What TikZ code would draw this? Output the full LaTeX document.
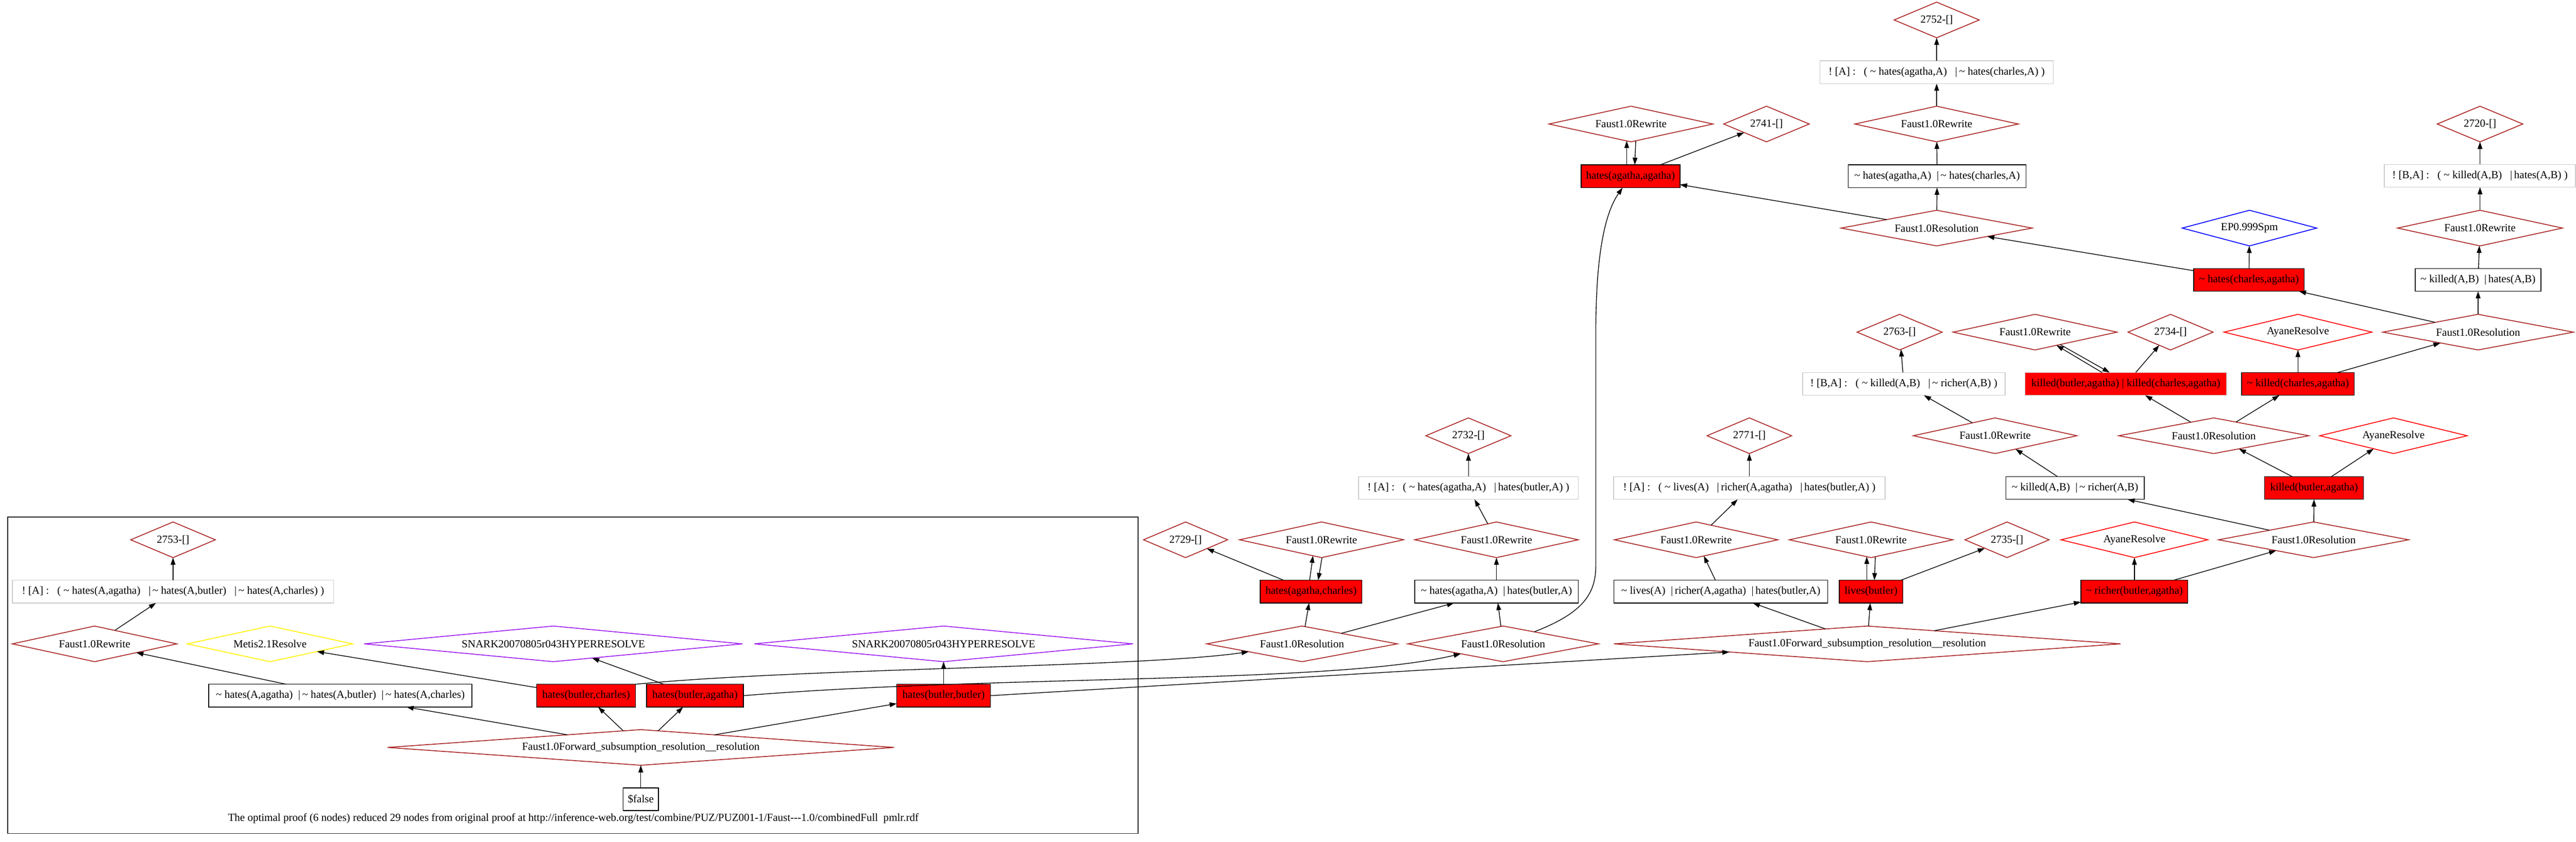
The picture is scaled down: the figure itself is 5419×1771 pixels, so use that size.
\documentclass[tikz,border=0pt]{standalone}
\usepackage{fontspec}
\setmainfont{Liberation Serif}
\usetikzlibrary{shapes.geometric,arrows.meta,calc}
\definecolor{fau}{RGB}{170,38,38}
\definecolor{pur}{RGB}{160,32,240}
\definecolor{gbox}{RGB}{204,204,204}
\newcommand{\tl}{\textasciitilde\ }
\begin{document}
\begin{tikzpicture}[x=1pt,y=-1pt,
  every node/.style={font=\fontsize{22.8}{27}\selectfont, inner sep=0pt, outer sep=0pt},
  dm/.code 2 args={\pgfmathsetmacro\dmasp{#1/75}\edef\dmtmp{\noexpand\tikzset{diamond, draw=#2, line width=1.8pt, minimum width=#1, minimum height=75, shape aspect=\dmasp}}\dmtmp},
  bx/.style={rectangle, draw=black, line width=1.6pt, minimum width=#1, minimum height=48},
  gx/.style={rectangle, draw=gbox, line width=1.6pt, minimum width=#1, minimum height=48},
  rx/.style={rectangle, draw=black, fill=red, line width=1.6pt, minimum width=#1, minimum height=48},
  ed/.style={draw, line width=1.5pt, -{Triangle[length=15pt,width=10pt]}}]
\useasboundingbox (0,0) rectangle (5419,1771);
% cluster frame
\draw[line width=1.8pt, black!85] (16,1088) rectangle (2394,1754);
\node[anchor=base] (cap) at (1206,1728) {The optimal proof (6 nodes) reduced 29 nodes from original proof at http://inference-web.org/test/combine/PUZ/PUZ001-1/Faust-{}-{}-1.0/combinedFull\ \ pmlr.rdf};
% inside cluster
\node[dm={178}{fau}] (n2753) at (364,1136) {2753-[]};
\node[gx=676] (fA3) at (364,1245) {!\ [A]\ :\ \ \ (\ \tl hates(A,agatha)\ \ \ |\,\tl hates(A,butler)\ \ \ |\,\tl hates(A,charles)\ )};
\node[dm={346}{fau}] (rwB) at (199,1355) {Faust1.0Rewrite};
\node[dm={348}{yellow}] (metis) at (568,1355) {Metis2.1Resolve};
\node[dm={796}{pur}] (snk1) at (1164,1355) {SNARK20070805r043HYPERRESOLVE};
\node[dm={797}{pur}] (snk2) at (1985,1355) {SNARK20070805r043HYPERRESOLVE};
\node[bx=554] (cl3) at (716,1464) {\tl hates(A,agatha)\ \ |\,\tl hates(A,butler)\ \ |\,\tl hates(A,charles)};
\node[rx=208] (hbc) at (1233,1464) {hates(butler,charles)};
\node[rx=204] (hba) at (1462,1464) {hates(butler,agatha)};
\node[rx=197] (hbb) at (1985,1464) {hates(butler,butler)};
\node[dm={1066}{fau}] (fwdB) at (1348,1573) {Faust1.0Forward\_subsumption\_resolution\_\_resolution};
\node[bx=74] (fls) at (1348,1682) {\$false};
% outside
\node[dm={177}{fau}] (n2729) at (2494,1136) {2729-[]};
\node[dm={345}{fau}] (rwC) at (2780,1136) {Faust1.0Rewrite};
\node[dm={344}{fau}] (rwD) at (3148,1136) {Faust1.0Rewrite};
\node[dm={179}{fau}] (n2732) at (3089,917) {2732-[]};
\node[gx=462] (fA2) at (3089,1027) {!\ [A]\ :\ \ \ (\ \tl hates(agatha,A)\ \ \ |\,hates(butler,A)\ )};
\node[rx=214] (hac) at (2758,1245) {hates(agatha,charles)};
\node[bx=344] (cl2) at (3148,1245) {\tl hates(agatha,A)\ \ |\,hates(butler,A)};
\node[dm={401}{fau}] (resL) at (2739,1355) {Faust1.0Resolution};
\node[dm={401}{fau}] (resR) at (3162,1355) {Faust1.0Resolution};
\node[dm={178}{fau}] (n2771) at (3680,917) {2771-[]};
\node[gx=571] (fA4) at (3680,1027) {!\ [A]\ :\ \ \ (\ \tl lives(A)\ \ \ |\,richer(A,agatha)\ \ \ |\,hates(butler,A)\ )};
\node[dm={344}{fau}] (rwE) at (3568,1136) {Faust1.0Rewrite};
\node[dm={344}{fau}] (rwF) at (3936,1136) {Faust1.0Rewrite};
\node[dm={177}{fau}] (n2735) at (4222,1136) {2735-[]};
\node[dm={309}{red}] (ay1) at (4490,1136) {AyaneResolve};
\node[bx=450] (cl4) at (3620,1245) {\tl lives(A)\ \ |\,richer(A,agatha)\ \ |\,hates(butler,A)};
\node[rx=134] (lb) at (3936,1245) {lives(butler)};
\node[rx=225] (nrba) at (4490,1245) {\tl richer(butler,agatha)};
\node[dm={1066}{fau}] (fwdA) at (3928,1355) {Faust1.0Forward\_subsumption\_resolution\_\_resolution};
\node[dm={344}{fau}] (rwG) at (4197,917) {Faust1.0Rewrite};
\node[dm={400}{fau}] (resM) at (4657,917) {Faust1.0Resolution};
\node[dm={310}{red}] (ay2) at (5035,917) {AyaneResolve};
\node[bx=291] (cl5) at (4365,1027) {\tl killed(A,B)\ \ |\,\tl richer(A,B)};
\node[rx=208] (kba) at (4868,1027) {killed(butler,agatha)};
\node[dm={400}{fau}] (resB) at (4867,1136) {Faust1.0Resolution};
\node[dm={179}{fau}] (n2763) at (3996,699) {2763-[]};
\node[dm={345}{fau}] (rwH) at (4281,699) {Faust1.0Rewrite};
\node[dm={179}{fau}] (n2734) at (4566,699) {2734-[]};
\node[dm={311}{red}] (ay3) at (4834,699) {AyaneResolve};
\node[dm={401}{fau}] (resT) at (5213,699) {Faust1.0Resolution};
\node[gx=426] (fA5) at (4005,808) {!\ [B,A]\ :\ \ \ (\ \tl killed(A,B)\ \ \ |\,\tl richer(A,B)\ )};
\node[rx=424, draw=gbox] (kk) at (4472,808) {killed(butler,agatha)\ |\ killed(charles,agatha)};
\node[rx=237] (nkca) at (4834,808) {\tl killed(charles,agatha)};
\node[rx=233] (nhca) at (4731,589) {\tl hates(charles,agatha)};
\node[bx=264] (cl6) at (5213,589) {\tl killed(A,B)\ \ |\,hates(A,B)};
\node[dm={402}{fau}] (resU) at (4074,480) {Faust1.0Resolution};
\node[dm={283}{blue}] (ep) at (4732,480) {EP0.999Spm};
\node[dm={347}{fau}] (rwI) at (5217,480) {Faust1.0Rewrite};
\node[rx=208] (hag) at (3430,371) {hates(agatha,agatha)};
\node[bx=374] (cl7) at (4075,371) {\tl hates(agatha,A)\ \ |\,\tl hates(charles,A)};
\node[gx=402] (fA6) at (5217,370) {!\ [B,A]\ :\ \ \ (\ \tl killed(A,B)\ \ \ |\,hates(A,B)\ )};
\node[dm={345}{fau}] (rwJ) at (3431,261) {Faust1.0Rewrite};
\node[dm={180}{fau}] (n2741) at (3716,261) {2741-[]};
\node[dm={344}{fau}] (rwK) at (4074,261) {Faust1.0Rewrite};
\node[dm={180}{fau}] (n2720) at (5217,261) {2720-[]};
\node[gx=491] (fA1) at (4074,152) {!\ [A]\ :\ \ \ (\ \tl hates(agatha,A)\ \ \ |\,\tl hates(charles,A)\ )};
\node[dm={179}{fau}] (n2752) at (4074,42) {2752-[]};
% edges inside cluster
\draw[ed] (fA3) -- (n2753);
\draw[ed] (rwB) -- (fA3);
\draw[ed] (cl3) -- (rwB);
\draw[ed] (fwdB) -- (cl3);
\draw[ed] (hbc) -- (metis);
\draw[ed] (hba) -- (snk1);
\draw[ed] (hbb) -- (snk2);
\draw[ed] (fwdB) -- (hbc);
\draw[ed] (fwdB) -- (hba);
\draw[ed] (fwdB) -- (hbb);
\draw[ed] (fls) -- (fwdB);
% long edges leaving the cluster
\draw[ed] (hbc.north east) .. controls (1700,1405) and (2400,1405) .. (resL);
\draw[ed] (hba.east) .. controls (2100,1420) and (2800,1440) .. (resR);
\draw[ed] (hbb.east) -- (fwdA);
% outside edges
\draw[ed] (hac) -- (n2729);
\draw[ed] ($(hac.north)+(-3,0)$) -- ($(rwC.south)+(-18,-4)$);
\draw[ed] ($(rwC.south)+(1,0)$) -- ($(hac.north)+(15,0)$);
\draw[ed] (resL) -- (hac);
\draw[ed] (resL) -- (cl2);
\draw[ed] (resR) -- (cl2);
\draw[ed] (cl2) -- (rwD);
\draw[ed] (rwD) -- (fA2);
\draw[ed] (fA2) -- (n2732);
\draw[ed] (resR) .. controls (3330,1290) and (3357,1250) .. (3357,1190) -- (3357,700) .. controls (3357,540) and (3375,450) .. (hag);
\draw[ed] (cl4) -- (rwE);
\draw[ed] (rwE) -- (fA4);
\draw[ed] (fA4) -- (n2771);
\draw[ed] (fwdA) -- (cl4);
\draw[ed] (fwdA) -- (lb);
\draw[ed] (fwdA) -- (nrba);
\draw[ed] ($(lb.north)+(-9,0)$) -- ($(rwF.south)+(-9,-2)$);
\draw[ed] ($(rwF.south)+(9,-2)$) -- ($(lb.north)+(7,0)$);
\draw[ed] (lb) -- (n2735);
\draw[ed] (nrba) -- (ay1);
\draw[ed] (nrba) -- (resB);
\draw[ed] (resB) -- (kba);
\draw[ed] (resB) -- (cl5);
\draw[ed] (cl5) -- (rwG);
\draw[ed] (rwG) -- (fA5);
\draw[ed] (fA5) -- (n2763);
\draw[ed] (kba) -- (resM);
\draw[ed] (kba) -- (ay2);
\draw[ed] (resM) -- (kk);
\draw[ed] (resM) -- (nkca);
\draw[ed] ($(kk.north)+(-50,0)$) -- ($(rwH.center)+(45,27.7)$);
\draw[ed] ($(rwH.center)+(53,26.2)$) -- ($(kk.north)+(-34,0)$);
\draw[ed] (kk) -- (n2734);
\draw[ed] (nkca) -- (ay3);
\draw[ed] (nkca) -- (resT);
\draw[ed] (resT) -- (nhca);
\draw[ed] (resT) -- (cl6);
\draw[ed] (cl6) -- (rwI);
\draw[ed] (rwI) -- (fA6);
\draw[ed] (fA6) -- (n2720);
\draw[ed] (nhca) -- (ep);
\draw[ed] (nhca) -- (resU);
\draw[ed] (resU) -- (hag);
\draw[ed] (resU) -- (cl7);
\draw[ed] (cl7) -- (rwK);
\draw[ed] (rwK) -- (fA1);
\draw[ed] (fA1) -- (n2752);
\draw[ed] ($(hag.north)+(-8,0)$) -- ($(rwJ.south)+(-9,-2)$);
\draw[ed] ($(rwJ.south)+(10,-2)$) -- ($(hag.north)+(9,0)$);
\draw[ed] (hag) -- (n2741);
\end{tikzpicture}
\end{document}
